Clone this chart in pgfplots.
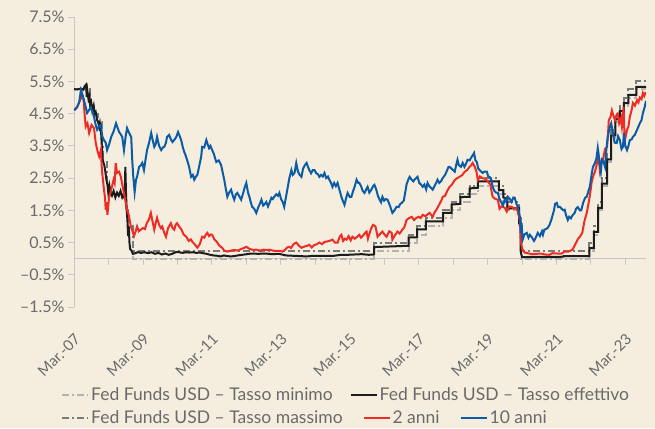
\documentclass[border=0pt]{standalone}
\usepackage{pgfplots}
\pgfplotsset{compat=1.18}
\usepackage{fontspec}
\setmainfont{Lato}
\definecolor{bg}{HTML}{F5EEDF}
\definecolor{txt}{HTML}{6A6A6A}
\definecolor{axl}{HTML}{C6C6C6}
\definecolor{ffmin}{HTML}{B2B2B2}
\definecolor{ffmax}{HTML}{7A7A7A}
\definecolor{ffeff}{HTML}{1C1C1C}
\definecolor{rtwo}{HTML}{EE2B24}
\definecolor{bten}{HTML}{0B5CA6}
\pgfplotsset{
  common/.style={
    scale only axis, width=572pt, height=290pt,
    xmin=2007.25, xmax=2023.85, ymin=-1.5, ymax=7.5,
    font=\fontsize{16}{18}\selectfont,
    legend cell align=left,
    legend style={draw=none, fill=none, font=\fontsize{17.5}{19}\selectfont, text=txt},
  },
  ddot/.style={dash pattern=on 7pt off 3pt on 2pt off 3pt},
}
\begin{document}
\begin{tikzpicture}
\fill[bg, use as bounding box] (-74pt,-121pt) rectangle (581pt,307pt);
\begin{axis}[common,
  axis x line=middle, axis y line=left,
  axis line style={axl, line width=0.8pt, -},
  xtick={2007.25,2008.25,...,2023.3}, xticklabels={},
  ytick={-1.5,-0.5,0.5,1.5,2.5,3.5,4.5,5.5,6.5,7.5},
  yticklabels={\textendash1.5\%,\textendash0.5\%,0.5\%,1.5\%,2.5\%,3.5\%,4.5\%,5.5\%,6.5\%,7.5\%},
  tick align=outside, major tick length=6pt,
  tick style={axl, line width=0.8pt},
  yticklabel style={text=txt},
  legend columns=2,
  legend style={at={(-0.028,-0.303)}, anchor=west,
    /tikz/every even column/.append style={column sep=15pt}},
  legend image code/.code={\draw[#1] (0pt,0pt) -- (26pt,0pt);},
]
\addplot[const plot, ffmin, line width=2pt, ddot] coordinates {
(2007.25,5.25) (2007.71,4.75) (2007.83,4.50) (2007.94,4.25) (2008.06,3.50) (2008.08,3.00)
(2008.21,2.25) (2008.33,2.00) (2008.77,1.50) (2008.83,1.00) (2008.96,0.00) (2015.96,0.25)
(2016.96,0.50) (2017.21,0.75) (2017.46,1.00) (2017.96,1.25) (2018.21,1.50) (2018.46,1.75)
(2018.73,2.00) (2018.97,2.25) (2019.58,2.00) (2019.71,1.75) (2019.83,1.50) (2020.17,1.00)
(2020.21,0.00) (2022.21,0.25) (2022.34,0.75) (2022.46,1.50) (2022.57,2.25) (2022.72,3.00)
(2022.84,3.75) (2022.96,4.25) (2023.09,4.50) (2023.21,4.75) (2023.34,5.00) (2023.57,5.25)
(2023.85,5.25)};
\addlegendentry{Fed Funds USD – Tasso minimo}
\addplot[const plot, ffmax, line width=2pt, ddot, forget plot] coordinates {
(2007.25,5.25) (2007.71,4.75) (2007.83,4.50) (2007.94,4.25) (2008.06,3.50) (2008.08,3.00)
(2008.21,2.25) (2008.33,2.00) (2008.77,1.50) (2008.83,1.00) (2008.96,0.25) (2015.96,0.50)
(2016.96,0.75) (2017.21,1.00) (2017.46,1.25) (2017.96,1.50) (2018.21,1.75) (2018.46,2.00)
(2018.73,2.25) (2018.97,2.50) (2019.58,2.25) (2019.71,2.00) (2019.83,1.75) (2020.17,1.25)
(2020.21,0.25) (2022.21,0.50) (2022.34,1.00) (2022.46,1.75) (2022.57,2.50) (2022.72,3.25)
(2022.84,4.00) (2022.96,4.50) (2023.09,4.75) (2023.21,5.00) (2023.34,5.25) (2023.57,5.50)
(2023.85,5.50)};
\addplot[ffeff, line width=2pt] coordinates {
(2007.25,5.26) (2007.35,5.25) (2007.45,5.28) (2007.52,5.24) (2007.56,5.35) (2007.60,5.40)
(2007.62,5.02) (2007.64,5.20) (2007.67,4.95) (2007.70,5.05) (2007.72,4.75) (2007.75,4.85)
(2007.78,4.60) (2007.82,4.75) (2007.85,4.50) (2007.88,4.55) (2007.92,4.30) (2007.95,4.25)
(2007.98,4.10) (2008.00,4.20) (2008.04,3.85) (2008.06,3.45) (2008.08,3.10) (2008.10,3.00)
(2008.13,2.90) (2008.16,2.70) (2008.19,2.45) (2008.22,2.30) (2008.25,2.00) (2008.28,2.25)
(2008.32,2.00) (2008.35,1.95) (2008.40,2.10) (2008.45,1.90) (2008.50,2.05) (2008.55,1.95)
(2008.60,2.10) (2008.65,1.90) (2008.70,2.00) (2008.72,1.85) (2008.74,2.85) (2008.76,2.00)
(2008.78,1.50) (2008.80,1.20) (2008.82,0.70) (2008.84,1.00) (2008.86,0.50) (2008.88,0.30)
(2008.92,0.25) (2008.96,0.15) (2009.00,0.16) (2009.10,0.20) (2009.20,0.18) (2009.30,0.20)
(2009.40,0.17) (2009.50,0.20) (2009.60,0.15) (2009.70,0.18) (2009.80,0.13) (2009.90,0.16)
(2010.00,0.12) (2010.10,0.15) (2010.20,0.20) (2010.30,0.20) (2010.40,0.18) (2010.50,0.20)
(2010.60,0.19) (2010.70,0.20) (2010.80,0.18) (2010.90,0.19) (2011.00,0.17) (2011.10,0.15)
(2011.20,0.12) (2011.30,0.10) (2011.40,0.09) (2011.50,0.07) (2011.60,0.10) (2011.70,0.08)
(2011.80,0.07) (2011.90,0.08) (2012.00,0.10) (2012.20,0.13) (2012.40,0.16) (2012.60,0.15)
(2012.80,0.16) (2013.00,0.14) (2013.20,0.15) (2013.40,0.10) (2013.60,0.09) (2013.80,0.08)
(2014.00,0.07) (2014.20,0.09) (2014.40,0.09) (2014.60,0.09) (2014.80,0.09) (2015.00,0.12)
(2015.20,0.12) (2015.40,0.13) (2015.60,0.14) (2015.80,0.12) (2015.96,0.13) (2015.96,0.36)
(2016.96,0.40) (2016.96,0.66) (2017.21,0.66) (2017.21,0.91) (2017.46,0.91) (2017.46,1.16)
(2017.96,1.16) (2017.96,1.42) (2018.21,1.42) (2018.21,1.68) (2018.46,1.70) (2018.46,1.91)
(2018.73,1.92) (2018.73,2.18) (2018.97,2.20) (2018.97,2.40) (2019.58,2.40) (2019.58,2.13)
(2019.71,2.13) (2019.71,1.90) (2019.83,1.85) (2019.83,1.55) (2020.17,1.58) (2020.17,1.10)
(2020.21,1.10) (2020.21,0.25) (2020.25,0.05) (2021.45,0.06) (2021.46,0.08) (2022.21,0.08)
(2022.21,0.33) (2022.34,0.33) (2022.34,0.83) (2022.46,0.83) (2022.46,1.58) (2022.57,1.58)
(2022.57,2.33) (2022.72,2.33) (2022.72,3.08) (2022.84,3.08) (2022.84,3.83) (2022.96,3.83)
(2022.96,4.33) (2023.09,4.33) (2023.09,4.58) (2023.21,4.58) (2023.21,4.83) (2023.34,4.83)
(2023.34,5.08) (2023.57,5.08) (2023.57,5.33) (2023.85,5.33)};
\addlegendentry{Fed Funds USD – Tasso effettivo}
\addplot[rtwo, line width=2pt, forget plot] coordinates {
(2007.25,4.60) (2007.30,4.65) (2007.36,4.75) (2007.42,4.90) (2007.49,5.08) (2007.53,4.90)
(2007.56,4.45) (2007.59,4.10) (2007.64,4.20) (2007.69,3.90) (2007.76,4.15) (2007.83,4.05)
(2007.88,3.60) (2007.93,3.35) (2007.98,3.17) (2008.03,3.37) (2008.06,2.75) (2008.09,2.45)
(2008.12,2.14) (2008.15,1.90) (2008.17,1.52) (2008.20,1.75) (2008.22,1.36) (2008.27,1.92)
(2008.31,2.05) (2008.35,2.23) (2008.40,2.45) (2008.43,2.35) (2008.46,2.97) (2008.50,2.66)
(2008.56,2.70) (2008.61,2.54) (2008.66,2.25) (2008.70,2.04) (2008.75,1.75) (2008.79,1.52)
(2008.84,1.35) (2008.90,1.00) (2008.95,0.85) (2008.99,0.70) (2009.04,0.85) (2009.08,1.00)
(2009.13,0.85) (2009.19,0.90) (2009.25,0.95) (2009.31,0.92) (2009.36,1.10) (2009.42,1.20)
(2009.48,1.42) (2009.53,1.15) (2009.58,0.90) (2009.62,1.10) (2009.66,1.27) (2009.72,1.05)
(2009.77,0.95) (2009.81,1.00) (2009.87,0.80) (2009.92,0.68) (2009.98,0.95) (2010.06,1.10)
(2010.11,0.95) (2010.16,0.90) (2010.20,1.05) (2010.24,1.10) (2010.30,1.00) (2010.37,0.90)
(2010.43,0.75) (2010.51,0.68) (2010.58,0.55) (2010.64,0.60) (2010.68,0.53) (2010.75,0.45)
(2010.83,0.34) (2010.90,0.45) (2010.97,0.68) (2011.03,0.65) (2011.08,0.75) (2011.12,0.80)
(2011.17,0.70) (2011.22,0.75) (2011.26,0.74) (2011.32,0.60) (2011.37,0.55) (2011.41,0.50)
(2011.47,0.40) (2011.55,0.34) (2011.61,0.25) (2011.70,0.22) (2011.80,0.25) (2011.90,0.27)
(2012.00,0.25) (2012.10,0.30) (2012.18,0.33) (2012.25,0.37) (2012.35,0.30) (2012.45,0.27)
(2012.54,0.28) (2012.65,0.25) (2012.75,0.28) (2012.85,0.27) (2012.92,0.28) (2013.02,0.25)
(2013.12,0.24) (2013.22,0.24) (2013.30,0.22) (2013.38,0.28) (2013.44,0.35) (2013.50,0.37)
(2013.55,0.33) (2013.62,0.45) (2013.70,0.50) (2013.78,0.40) (2013.85,0.34) (2013.95,0.38)
(2014.02,0.40) (2014.08,0.43) (2014.15,0.35) (2014.22,0.42) (2014.30,0.45) (2014.37,0.50)
(2014.45,0.45) (2014.52,0.52) (2014.58,0.53) (2014.66,0.55) (2014.75,0.59) (2014.82,0.50)
(2014.90,0.50) (2014.96,0.68) (2015.01,0.74) (2015.06,0.55) (2015.11,0.62) (2015.16,0.59)
(2015.22,0.70) (2015.28,0.57) (2015.33,0.68) (2015.40,0.62) (2015.47,0.68) (2015.53,0.74)
(2015.58,0.65) (2015.64,0.72) (2015.70,0.80) (2015.74,0.84) (2015.78,0.62) (2015.83,0.80)
(2015.88,0.95) (2015.93,1.05) (2016.00,1.00) (2016.06,0.68) (2016.12,0.75) (2016.20,0.84)
(2016.26,0.75) (2016.32,0.68) (2016.40,0.85) (2016.47,0.80) (2016.49,0.59) (2016.56,0.72)
(2016.64,0.84) (2016.70,0.78) (2016.78,0.90) (2016.84,0.98) (2016.90,1.20) (2016.96,1.25)
(2017.05,1.30) (2017.12,1.20) (2017.19,1.27) (2017.25,1.30) (2017.31,1.26) (2017.37,1.36)
(2017.45,1.32) (2017.52,1.38) (2017.57,1.42) (2017.66,1.30) (2017.72,1.45) (2017.77,1.52)
(2017.85,1.68) (2017.91,1.80) (2017.95,1.92) (2018.02,1.95) (2018.08,2.10) (2018.15,2.23)
(2018.22,2.30) (2018.30,2.44) (2018.37,2.50) (2018.44,2.54) (2018.52,2.60) (2018.59,2.70)
(2018.66,2.75) (2018.73,2.85) (2018.78,2.90) (2018.82,2.97) (2018.88,2.85) (2018.93,2.70)
(2018.97,2.44) (2019.03,2.55) (2019.11,2.50) (2019.18,2.48) (2019.26,2.40) (2019.33,2.30)
(2019.40,1.92) (2019.47,1.86) (2019.55,1.83) (2019.60,1.55) (2019.65,1.62) (2019.69,1.61)
(2019.75,1.58) (2019.81,1.46) (2019.88,1.62) (2019.95,1.61) (2020.02,1.55) (2020.10,1.58)
(2020.15,1.35) (2020.19,1.20) (2020.22,0.50) (2020.26,0.30) (2020.33,0.19) (2020.45,0.16)
(2020.57,0.14) (2020.68,0.15) (2020.80,0.16) (2020.92,0.13) (2021.04,0.12) (2021.14,0.17)
(2021.28,0.16) (2021.40,0.16) (2021.49,0.22) (2021.60,0.22) (2021.68,0.26) (2021.73,0.30)
(2021.80,0.45) (2021.88,0.62) (2021.93,0.68) (2022.00,0.80) (2022.06,1.15) (2022.13,1.42)
(2022.18,1.70) (2022.22,1.95) (2022.27,2.35) (2022.31,2.54) (2022.37,2.70) (2022.43,2.97)
(2022.47,3.20) (2022.51,2.75) (2022.56,3.05) (2022.60,3.07) (2022.66,3.40) (2022.72,3.47)
(2022.75,3.90) (2022.77,4.30) (2022.82,4.40) (2022.86,4.60) (2022.90,4.45) (2022.95,4.30)
(2022.99,4.45) (2023.03,4.50) (2023.07,4.20) (2023.12,4.35) (2023.15,4.10) (2023.20,4.70)
(2023.22,4.00) (2023.24,3.68) (2023.30,4.00) (2023.34,4.10) (2023.38,4.40) (2023.43,4.60)
(2023.47,4.83) (2023.53,4.75) (2023.59,4.92) (2023.63,4.85) (2023.67,5.00) (2023.72,4.95)
(2023.76,5.14) (2023.80,5.05) (2023.84,5.17)};
\addplot[bten, line width=2pt, forget plot] coordinates {
(2007.25,4.61) (2007.30,4.65) (2007.34,4.70) (2007.40,4.85) (2007.45,5.23) (2007.48,5.14)
(2007.54,4.92) (2007.58,4.75) (2007.63,4.52) (2007.68,4.60) (2007.74,4.70) (2007.79,4.55)
(2007.83,4.40) (2007.88,4.15) (2007.92,4.00) (2007.97,4.10) (2008.03,4.15) (2008.07,3.80)
(2008.12,3.68) (2008.17,3.60) (2008.21,3.37) (2008.27,3.55) (2008.33,3.78) (2008.40,3.95)
(2008.47,4.20) (2008.52,4.05) (2008.56,3.93) (2008.61,3.85) (2008.65,3.78) (2008.70,3.37)
(2008.75,3.80) (2008.79,4.05) (2008.85,3.90) (2008.91,3.78) (2008.94,3.07) (2008.97,2.55)
(2009.01,2.07) (2009.05,2.45) (2009.08,2.54) (2009.14,2.85) (2009.19,2.90) (2009.23,2.97)
(2009.28,2.75) (2009.33,3.10) (2009.37,3.37) (2009.43,3.60) (2009.49,3.90) (2009.54,3.65)
(2009.58,3.47) (2009.62,3.55) (2009.66,3.78) (2009.72,3.50) (2009.78,3.37) (2009.83,3.45)
(2009.87,3.47) (2009.92,3.60) (2009.95,3.78) (2010.01,3.84) (2010.07,3.68) (2010.11,3.62)
(2010.17,3.70) (2010.22,3.78) (2010.27,3.93) (2010.32,3.80) (2010.36,3.68) (2010.41,3.45)
(2010.45,3.31) (2010.49,3.20) (2010.53,3.07) (2010.59,2.85) (2010.65,2.54) (2010.70,2.60)
(2010.74,2.45) (2010.79,2.55) (2010.83,2.60) (2010.88,2.85) (2010.94,3.16) (2010.97,3.47)
(2011.03,3.45) (2011.09,3.68) (2011.13,3.55) (2011.17,3.43) (2011.21,3.50) (2011.26,3.37)
(2011.31,3.25) (2011.35,3.10) (2011.38,3.00) (2011.45,3.05) (2011.52,2.90) (2011.56,2.70)
(2011.61,2.45) (2011.65,2.20) (2011.70,1.92) (2011.75,2.05) (2011.81,2.14) (2011.86,1.95)
(2011.90,1.83) (2011.95,2.00) (2011.99,2.04) (2012.04,1.95) (2012.10,1.83) (2012.15,2.00)
(2012.20,2.20) (2012.25,2.35) (2012.30,2.05) (2012.34,1.92) (2012.38,1.75) (2012.42,1.61)
(2012.48,1.55) (2012.54,1.42) (2012.60,1.60) (2012.65,1.72) (2012.69,1.83) (2012.74,1.65)
(2012.79,1.70) (2012.83,1.76) (2012.88,1.62) (2012.93,1.75) (2012.98,1.89) (2013.02,1.85)
(2013.06,1.92) (2013.12,2.00) (2013.17,1.95) (2013.21,2.04) (2013.26,1.85) (2013.31,1.75)
(2013.35,1.61) (2013.40,1.90) (2013.44,2.14) (2013.50,2.50) (2013.56,2.75) (2013.60,2.60)
(2013.65,2.66) (2013.70,2.97) (2013.75,2.70) (2013.80,2.60) (2013.85,2.54) (2013.90,2.80)
(2013.95,2.90) (2014.00,2.97) (2014.04,2.85) (2014.08,2.75) (2014.13,2.65) (2014.18,2.75)
(2014.23,2.75) (2014.28,2.65) (2014.33,2.62) (2014.37,2.54) (2014.42,2.60) (2014.47,2.55)
(2014.52,2.66) (2014.57,2.50) (2014.62,2.55) (2014.66,2.45) (2014.71,2.35) (2014.75,2.23)
(2014.80,2.35) (2014.85,2.25) (2014.90,2.35) (2014.95,2.15) (2015.01,1.92) (2015.05,1.80)
(2015.10,1.67) (2015.14,1.85) (2015.19,2.04) (2015.25,1.92) (2015.30,1.92) (2015.35,2.10)
(2015.40,2.25) (2015.45,2.45) (2015.50,2.35) (2015.53,2.35) (2015.58,2.25) (2015.63,2.10)
(2015.68,2.04) (2015.73,2.15) (2015.77,2.23) (2015.82,2.05) (2015.88,2.14) (2015.93,2.25)
(2015.97,2.29) (2016.02,2.15) (2016.07,1.95) (2016.12,1.83) (2016.16,1.75) (2016.20,1.92)
(2016.25,1.80) (2016.30,1.85) (2016.35,1.83) (2016.40,1.70) (2016.45,1.55) (2016.49,1.42)
(2016.55,1.50) (2016.61,1.61) (2016.67,1.60) (2016.72,1.70) (2016.76,1.73) (2016.82,1.80)
(2016.87,2.10) (2016.90,2.30) (2016.95,2.45) (2016.99,2.54) (2017.05,2.45) (2017.10,2.40)
(2017.13,2.45) (2017.18,2.50) (2017.22,2.54) (2017.27,2.35) (2017.32,2.30) (2017.37,2.23)
(2017.42,2.30) (2017.47,2.15) (2017.51,2.35) (2017.56,2.25) (2017.61,2.20) (2017.66,2.14)
(2017.71,2.25) (2017.76,2.35) (2017.80,2.45) (2017.85,2.35) (2017.90,2.40) (2017.95,2.50)
(2018.02,2.60) (2018.08,2.75) (2018.12,2.85) (2018.15,2.85) (2018.20,2.80) (2018.25,2.75)
(2018.30,2.70) (2018.34,2.90) (2018.38,3.07) (2018.42,2.90) (2018.48,2.85) (2018.53,2.97)
(2018.58,2.85) (2018.63,2.95) (2018.67,3.07) (2018.73,3.05) (2018.79,3.16) (2018.83,3.22)
(2018.86,3.28) (2018.90,3.05) (2018.94,3.00) (2018.98,2.80) (2019.02,2.75) (2019.07,2.70)
(2019.11,2.66) (2019.16,2.70) (2019.23,2.70) (2019.27,2.55) (2019.31,2.54) (2019.36,2.45)
(2019.40,2.23) (2019.45,2.10) (2019.50,2.05) (2019.55,2.04) (2019.60,1.85) (2019.66,1.73)
(2019.70,1.65) (2019.75,1.83) (2019.80,1.75) (2019.84,1.92) (2019.90,1.85) (2019.95,1.76)
(2020.00,1.90) (2020.04,1.89) (2020.09,1.70) (2020.13,1.61) (2020.17,1.40) (2020.19,1.30)
(2020.22,0.80) (2020.24,1.10) (2020.27,0.59) (2020.32,0.75) (2020.39,0.80) (2020.44,0.65)
(2020.48,0.74) (2020.54,0.66) (2020.60,0.55) (2020.62,0.59) (2020.67,0.70) (2020.71,0.80)
(2020.77,0.70) (2020.83,0.85) (2020.86,0.74) (2020.90,0.90) (2020.95,0.92) (2021.00,0.96)
(2021.05,1.05) (2021.10,1.20) (2021.14,1.35) (2021.18,1.50) (2021.21,1.70) (2021.26,1.73)
(2021.30,1.60) (2021.35,1.61) (2021.40,1.55) (2021.45,1.50) (2021.49,1.52) (2021.53,1.35)
(2021.58,1.20) (2021.62,1.30) (2021.67,1.25) (2021.72,1.35) (2021.78,1.42) (2021.82,1.55)
(2021.87,1.60) (2021.93,1.50) (2021.97,1.50) (2022.03,1.75) (2022.09,1.90) (2022.13,1.92)
(2022.18,2.10) (2022.22,2.23) (2022.27,2.60) (2022.31,2.85) (2022.36,2.95) (2022.41,3.10)
(2022.45,3.43) (2022.50,3.00) (2022.54,2.70) (2022.57,3.07) (2022.62,3.00) (2022.66,2.85)
(2022.70,3.40) (2022.74,3.78) (2022.80,4.09) (2022.84,4.20) (2022.89,3.90) (2022.94,3.60)
(2023.00,3.59) (2023.04,3.80) (2023.09,3.68) (2023.14,3.40) (2023.18,3.47) (2023.21,3.90)
(2023.25,3.50) (2023.30,3.37) (2023.34,3.50) (2023.38,3.68) (2023.43,3.70) (2023.47,3.78)
(2023.53,3.85) (2023.59,4.00) (2023.63,4.10) (2023.67,4.20) (2023.72,4.30) (2023.76,4.52)
(2023.81,4.70) (2023.85,4.90)};
\end{axis}
\begin{axis}[common,
  axis x line=bottom, axis y line=none,
  x axis line style={draw=none},
  xtick={2007.25,2009.25,2011.25,2013.25,2015.25,2017.25,2019.25,2021.25,2023.25},
  xticklabels={Mar.-07,Mar.-09,Mar.-11,Mar.-13,Mar.-15,Mar.-17,Mar.-19,Mar.-21,Mar.-23},
  major tick length=0pt, xtick style={draw=none},
  xticklabel style={xshift=6pt, yshift=-15pt, rotate=45, anchor=east, text=txt, font=\fontsize{15}{17}\selectfont},
  xticklabel shift=12pt,
  legend columns=3,
  legend style={at={(-0.028,-0.383)}, anchor=west,
    /tikz/every even column/.append style={column sep=18pt}},
  legend image code/.code={\draw[#1] (0pt,0pt) -- (26pt,0pt);},
]
\addlegendimage{ffmax, line width=2pt, ddot}
\addlegendentry{Fed Funds USD – Tasso massimo}
\addlegendimage{rtwo, line width=2pt}
\addlegendentry{2 anni}
\addlegendimage{bten, line width=2pt}
\addlegendentry{10 anni}
\end{axis}
\end{tikzpicture}
\end{document}
